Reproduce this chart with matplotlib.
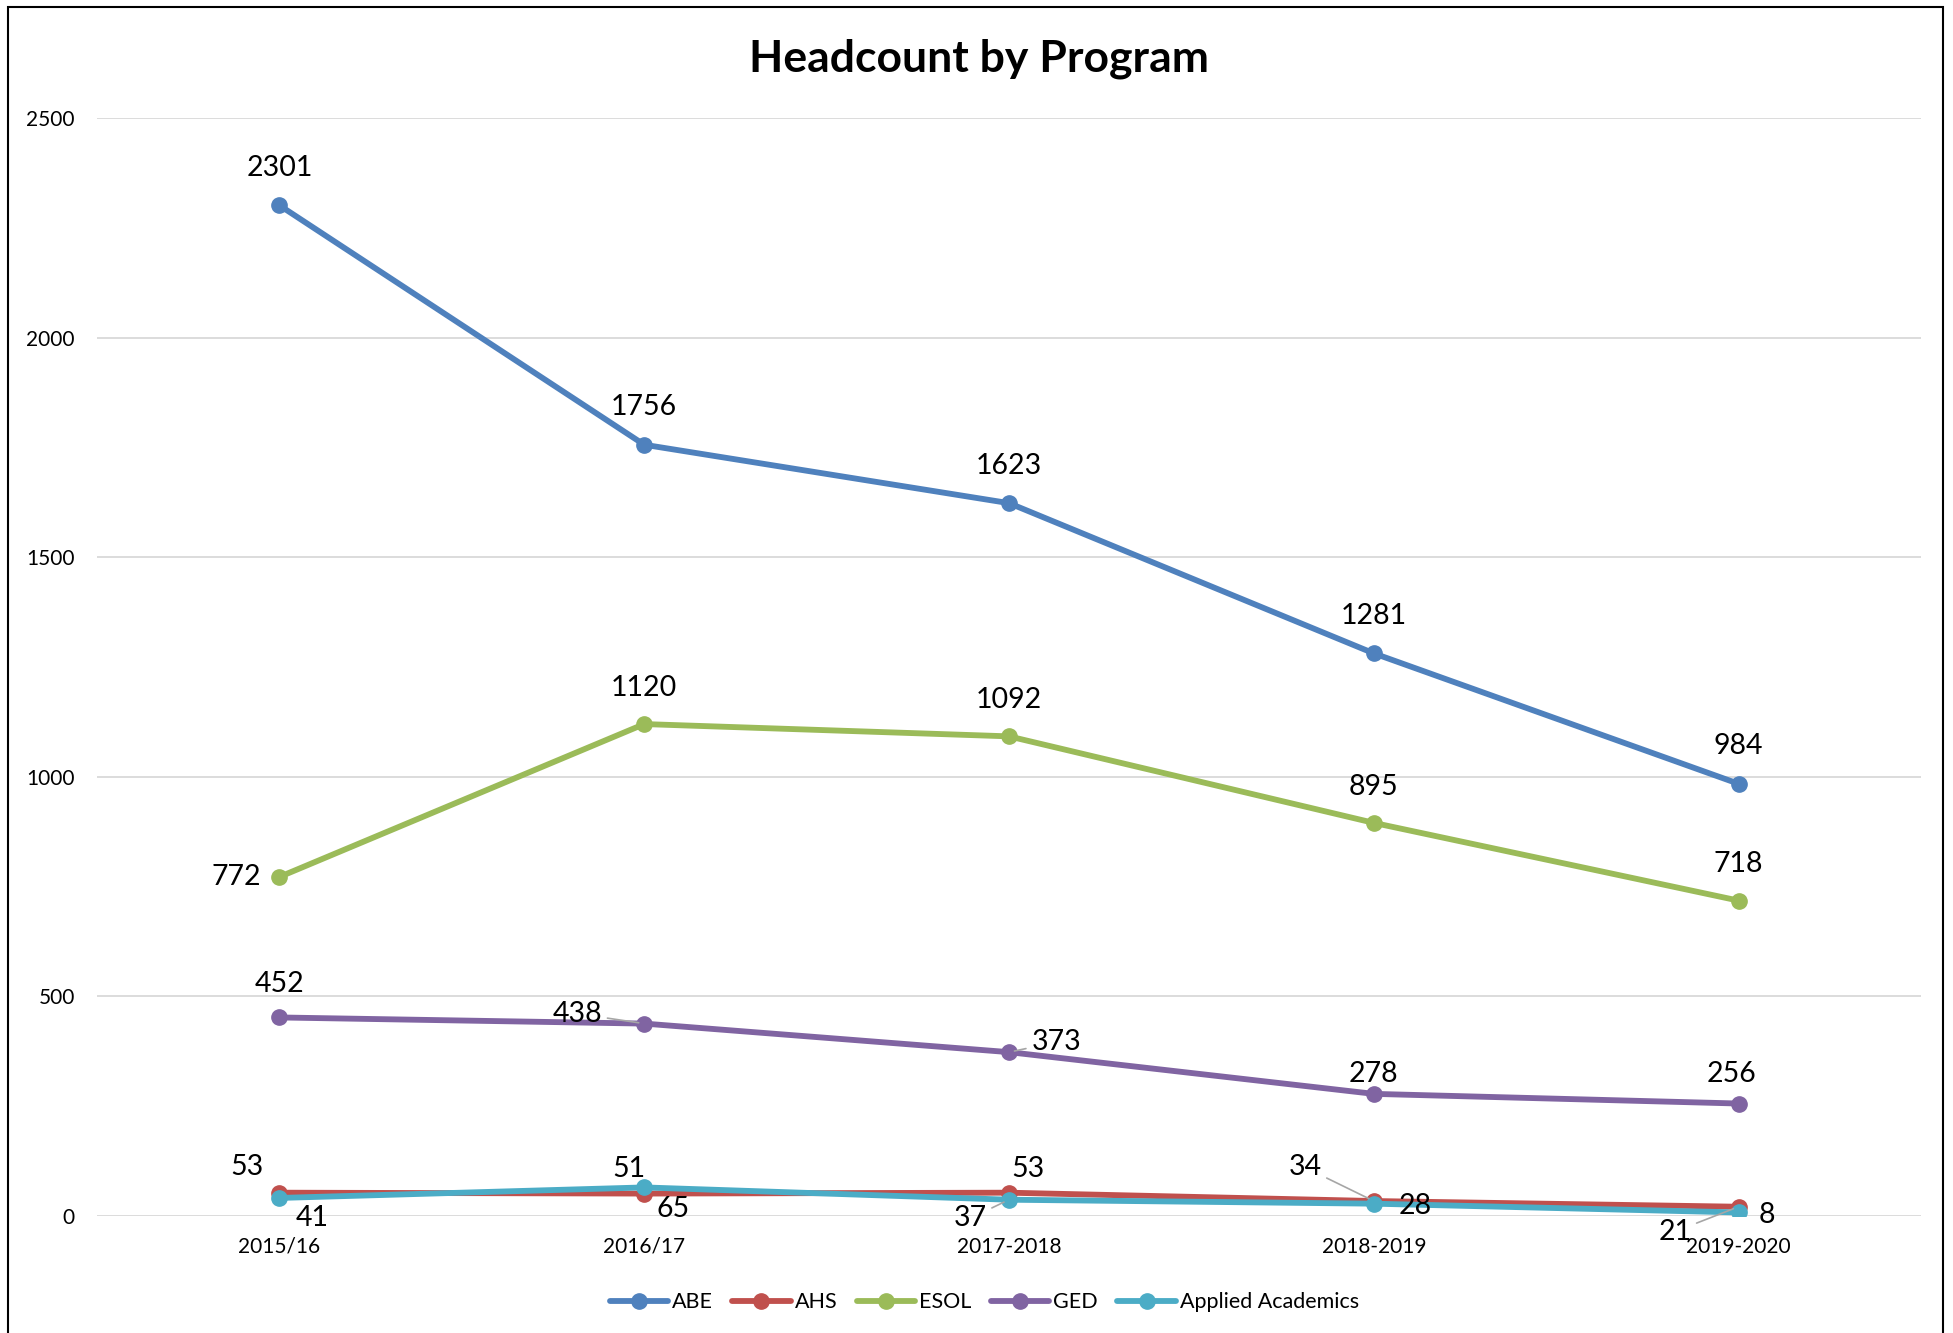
import matplotlib.pyplot as plt
from matplotlib.patches import Rectangle

plt.rcParams['font.family'] = ['Lato', 'DejaVu Sans']

years = ["2015/16", "2016/17", "2017-2018", "2018-2019", "2019-2020"]
abe = [2301, 1756, 1623, 1281, 984]
ahs = [53, 51, 53, 34, 21]
esol = [772, 1120, 1092, 895, 718]
ged = [452, 438, 373, 278, 256]
applied = [41, 65, 37, 28, 8]

names = ["ABE", "AHS", "ESOL", "GED", "Applied Academics"]
series = [abe, ahs, esol, ged, applied]
colors = ["#4F81BD", "#C0504D", "#9BBB59", "#8064A2", "#4BACC6"]

# label offsets in screen pixels (dx, dy, ha), plus optional leader line
s = 1.2455
label_pos = {
    "ABE": [(0, 30, 'center')] * 5,
    "ESOL": [(-15, 0, 'right'), (0, 29, 'center'), (0, 29, 'center'), (0, 29, 'center'), (0, 29, 'center')],
    "GED": [(0, 27, 'center'), (-34, 8, 'right'), (18, 8, 'left'), (0, 16, 'center'), (-6, 24, 'center')],
    "AHS": [(-26, 21, 'center'), (-12, 20, 'center'), (15, 19, 'center'), (-42, 27, 'right'), (-38, -20, 'right')],
    "Applied Academics": [(26, -16, 'center'), (23, -17, 'center'), (-18, -15, 'right'), (20, -2, 'left'), (16, -2, 'left')],
}
leaders = {("GED", 1), ("GED", 2), ("AHS", 3), ("AHS", 4), ("Applied Academics", 2)}

fig = plt.figure(figsize=(19.53, 13.33), dpi=100)
ax = fig.add_axes([0.0497, 0.0878, 0.9339, 0.8237])

x = list(range(len(years)))
for name, vals, c in zip(names, series, colors):
    ax.plot(x, vals, color=c, linewidth=4.2, marker='o', markersize=11,
            label=name, solid_capstyle='round', zorder=3)
    for i, v in enumerate(vals):
        dx, dy, ha = label_pos[name][i]
        if (name, i) in leaders:
            ax.annotate(str(v), xy=(i, v), xytext=(dx * s, dy * s),
                        textcoords='offset pixels', ha=ha, va='center',
                        fontsize=20.5, zorder=5,
                        arrowprops=dict(arrowstyle='-', color='#A6A6A6', lw=1.2,
                                        shrinkA=2, shrinkB=4))
        else:
            ax.annotate(str(v), xy=(i, v), xytext=(dx * s, dy * s),
                        textcoords='offset pixels', ha=ha, va='center',
                        fontsize=20.5, zorder=5)

ax.set_xlim(-0.5, 4.5)
ax.set_ylim(0, 2500)
ax.set_yticks([0, 500, 1000, 1500, 2000, 2500])
ax.set_xticks(x)
ax.set_xticklabels(years)
ax.tick_params(axis='both', length=0, labelsize=15)
ax.tick_params(axis='x', pad=15)
ax.tick_params(axis='y', pad=16)
ax.grid(axis='y', color='#D9D9D9', linewidth=1.3)
ax.set_axisbelow(True)
for sp in ax.spines.values():
    sp.set_visible(False)

fig.text(0.5015, 0.956, "Headcount by Program", ha='center', va='center',
         fontsize=32, fontweight='bold')

fig.legend(loc='center', bbox_to_anchor=(0.504, 0.023), ncol=5, frameon=False,
           fontsize=15.5, handlelength=2.7, columnspacing=0.9, handletextpad=0.2)

fig.patches.append(Rectangle((0.004, -0.01), 0.991, 1.005, transform=fig.transFigure,
                             fill=False, edgecolor='black', linewidth=1.5))

fig.savefig("out.png", dpi=100)
